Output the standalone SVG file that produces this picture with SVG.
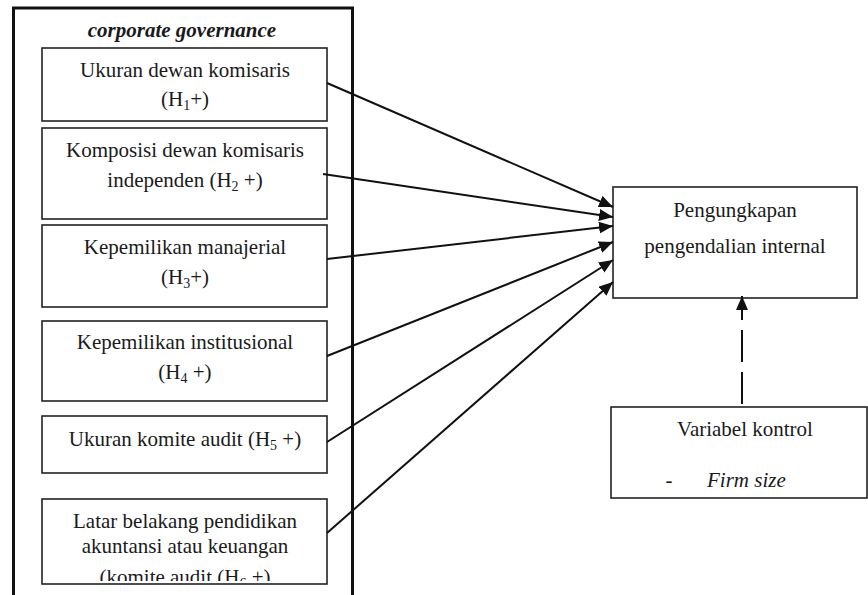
<svg xmlns="http://www.w3.org/2000/svg" width="868" height="595" viewBox="0 0 868 595">
<style>
text{font-family:"Liberation Serif",Tinos,"Noto Serif","DejaVu Serif",FreeSerif,"Nimbus Roman","Times New Roman",Times,serif;font-size:21px;fill:#1a1a1a;text-anchor:middle}
text.st{text-anchor:start}
.box{fill:#fff;stroke:#222;stroke-width:1.6}
.sub{font-size:14px}
.conn{stroke:#111;stroke-width:2;fill:none}
</style>
<defs>
<marker id="ah" markerUnits="userSpaceOnUse" markerWidth="16" markerHeight="14" refX="14" refY="6" orient="auto">
<path d="M0,0 L14,6 L0,12 Z" fill="#111"/>
</marker>
<clipPath id="c6"><rect x="42" y="499" width="285" height="82"/></clipPath>
</defs>
<rect width="868" height="595" fill="#fff"/>
<g id="outer">
<path d="M13.5,600 V8 H352.5 V600" fill="none" stroke="#111" stroke-width="3"/>
<text x="182" y="37" font-weight="bold" font-style="italic">corporate governance</text>
</g>
<g id="n1">
<rect class="box" x="42" y="48" width="285" height="73"/>
<text x="185" y="77">Ukuran dewan komisaris</text>
<text x="185" y="106">(H<tspan class="sub" dy="4">1</tspan><tspan dy="-4">+)</tspan></text>
</g>
<g id="n2">
<rect class="box" x="42" y="128" width="285" height="91"/>
<text x="185" y="157">Komposisi dewan komisaris</text>
<text x="185" y="187">independen (H<tspan class="sub" dy="4">2</tspan><tspan dy="-4"> +)</tspan></text>
</g>
<g id="n3">
<rect class="box" x="42" y="225" width="285" height="82"/>
<text x="185" y="254">Kepemilikan manajerial</text>
<text x="185" y="284">(H<tspan class="sub" dy="4">3</tspan><tspan dy="-4">+)</tspan></text>
</g>
<g id="n4">
<rect class="box" x="42" y="321" width="285" height="80"/>
<text x="185" y="349">Kepemilikan institusional</text>
<text x="185" y="379">(H<tspan class="sub" dy="4">4</tspan><tspan dy="-4"> +)</tspan></text>
</g>
<g id="n5">
<rect class="box" x="42" y="416" width="285" height="57"/>
<text x="185" y="446">Ukuran komite audit (H<tspan class="sub" dy="4">5</tspan><tspan dy="-4"> +)</tspan></text>
</g>
<g id="n6">
<rect class="box" x="42" y="499" width="285" height="85"/>
<text x="185" y="528">Latar belakang pendidikan</text>
<text x="185" y="553">akuntansi atau keuangan</text>
<text x="185" y="584" clip-path="url(#c6)">(komite audit (H<tspan class="sub" dy="4">6</tspan><tspan dy="-4"> +)</tspan></text>
</g>
<g id="target">
<rect class="box" x="613" y="187" width="244" height="111"/>
<text x="735" y="217">Pengungkapan</text>
<text x="735" y="253">pengendalian internal</text>
</g>
<g id="control">
<rect class="box" x="611" y="407" width="256" height="91"/>
<text x="745" y="436">Variabel kontrol</text>
<text x="669" y="487">-</text>
<text class="st" x="707" y="487" font-style="italic">Firm size</text>
</g>
<g id="connectors">
<line class="conn" x1="327" y1="83" x2="613" y2="207" marker-end="url(#ah)"/>
<line class="conn" x1="323" y1="174" x2="613" y2="217" marker-end="url(#ah)"/>
<line class="conn" x1="327" y1="259" x2="613" y2="226" marker-end="url(#ah)"/>
<line class="conn" x1="327" y1="356" x2="613" y2="242" marker-end="url(#ah)"/>
<line class="conn" x1="327" y1="442" x2="613" y2="260" marker-end="url(#ah)"/>
<line class="conn" x1="327" y1="533" x2="613" y2="282" marker-end="url(#ah)"/>
<line class="conn" x1="742" y1="404" x2="742" y2="296" stroke-dasharray="32 10" marker-end="url(#ah)"/>
</g>
</svg>
